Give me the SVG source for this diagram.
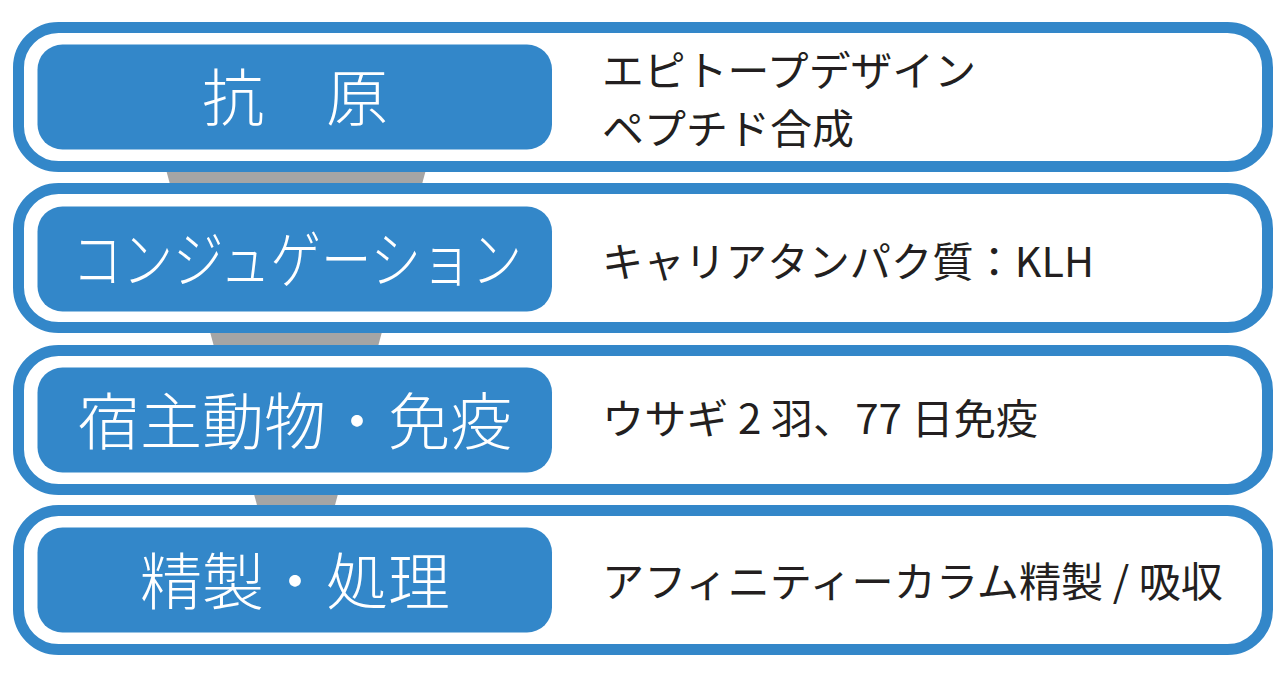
<svg xmlns="http://www.w3.org/2000/svg" width="1287" height="682" viewBox="0 0 1287 682">
<style>
.frame{fill:#ffffff;stroke:#3387c9;stroke-width:11}
.pill{fill:#3387c9}
.lbl{font-family:"Noto Sans CJK JP","Noto Sans",sans-serif;font-weight:300;font-size:62px;fill:#ffffff;text-anchor:middle}
.desc{font-family:"Noto Sans CJK JP","Noto Sans",sans-serif;font-weight:400;font-size:41px;fill:#231f20}
</style>
<rect width="1287" height="682" fill="#ffffff"/>
<g id="connectors">
<polygon points="126,22 466,22 296,649" fill="#a5a5a5"/>
</g>
<g id="node1">
<rect class="frame" x="18.5" y="27.5" width="1249" height="139" rx="40"/>
<rect class="pill" x="37.5" y="44.5" width="514.5" height="105" rx="25"/>
<text class="lbl" x="295" y="121">抗　原</text>
<text class="desc" x="602" y="86" textLength="374" lengthAdjust="spacingAndGlyphs">エピトープデザイン</text>
<text class="desc" x="602" y="144" textLength="252" lengthAdjust="spacingAndGlyphs">ペプチド合成</text>
</g>
<g id="node2">
<rect class="frame" x="18.5" y="188.5" width="1249" height="139" rx="40"/>
<rect class="pill" x="37.5" y="206.5" width="514.5" height="105" rx="25"/>
<text class="lbl" x="297" y="283" textLength="450" lengthAdjust="spacingAndGlyphs">コンジュゲーション</text>
<text class="desc" x="602" y="277" textLength="492" lengthAdjust="spacingAndGlyphs">キャリアタンパク質：KLH</text>
</g>
<g id="node3">
<rect class="frame" x="18.5" y="350.5" width="1249" height="139" rx="40"/>
<rect class="pill" x="37.5" y="367.5" width="514.5" height="105" rx="25"/>
<text class="lbl" x="295" y="445">宿主動物・免疫</text>
<text class="desc" x="602" y="434" textLength="436" lengthAdjust="spacingAndGlyphs">ウサギ 2 羽、77 日免疫</text>
</g>
<g id="node4">
<rect class="frame" x="18.5" y="510.5" width="1249" height="139" rx="40"/>
<rect class="pill" x="37.5" y="527.5" width="514.5" height="105" rx="25"/>
<text class="lbl" x="295" y="605">精製・処理</text>
<text class="desc" x="602" y="597" textLength="621" lengthAdjust="spacingAndGlyphs">アフィニティーカラム精製 / 吸収</text>
</g>
</svg>
